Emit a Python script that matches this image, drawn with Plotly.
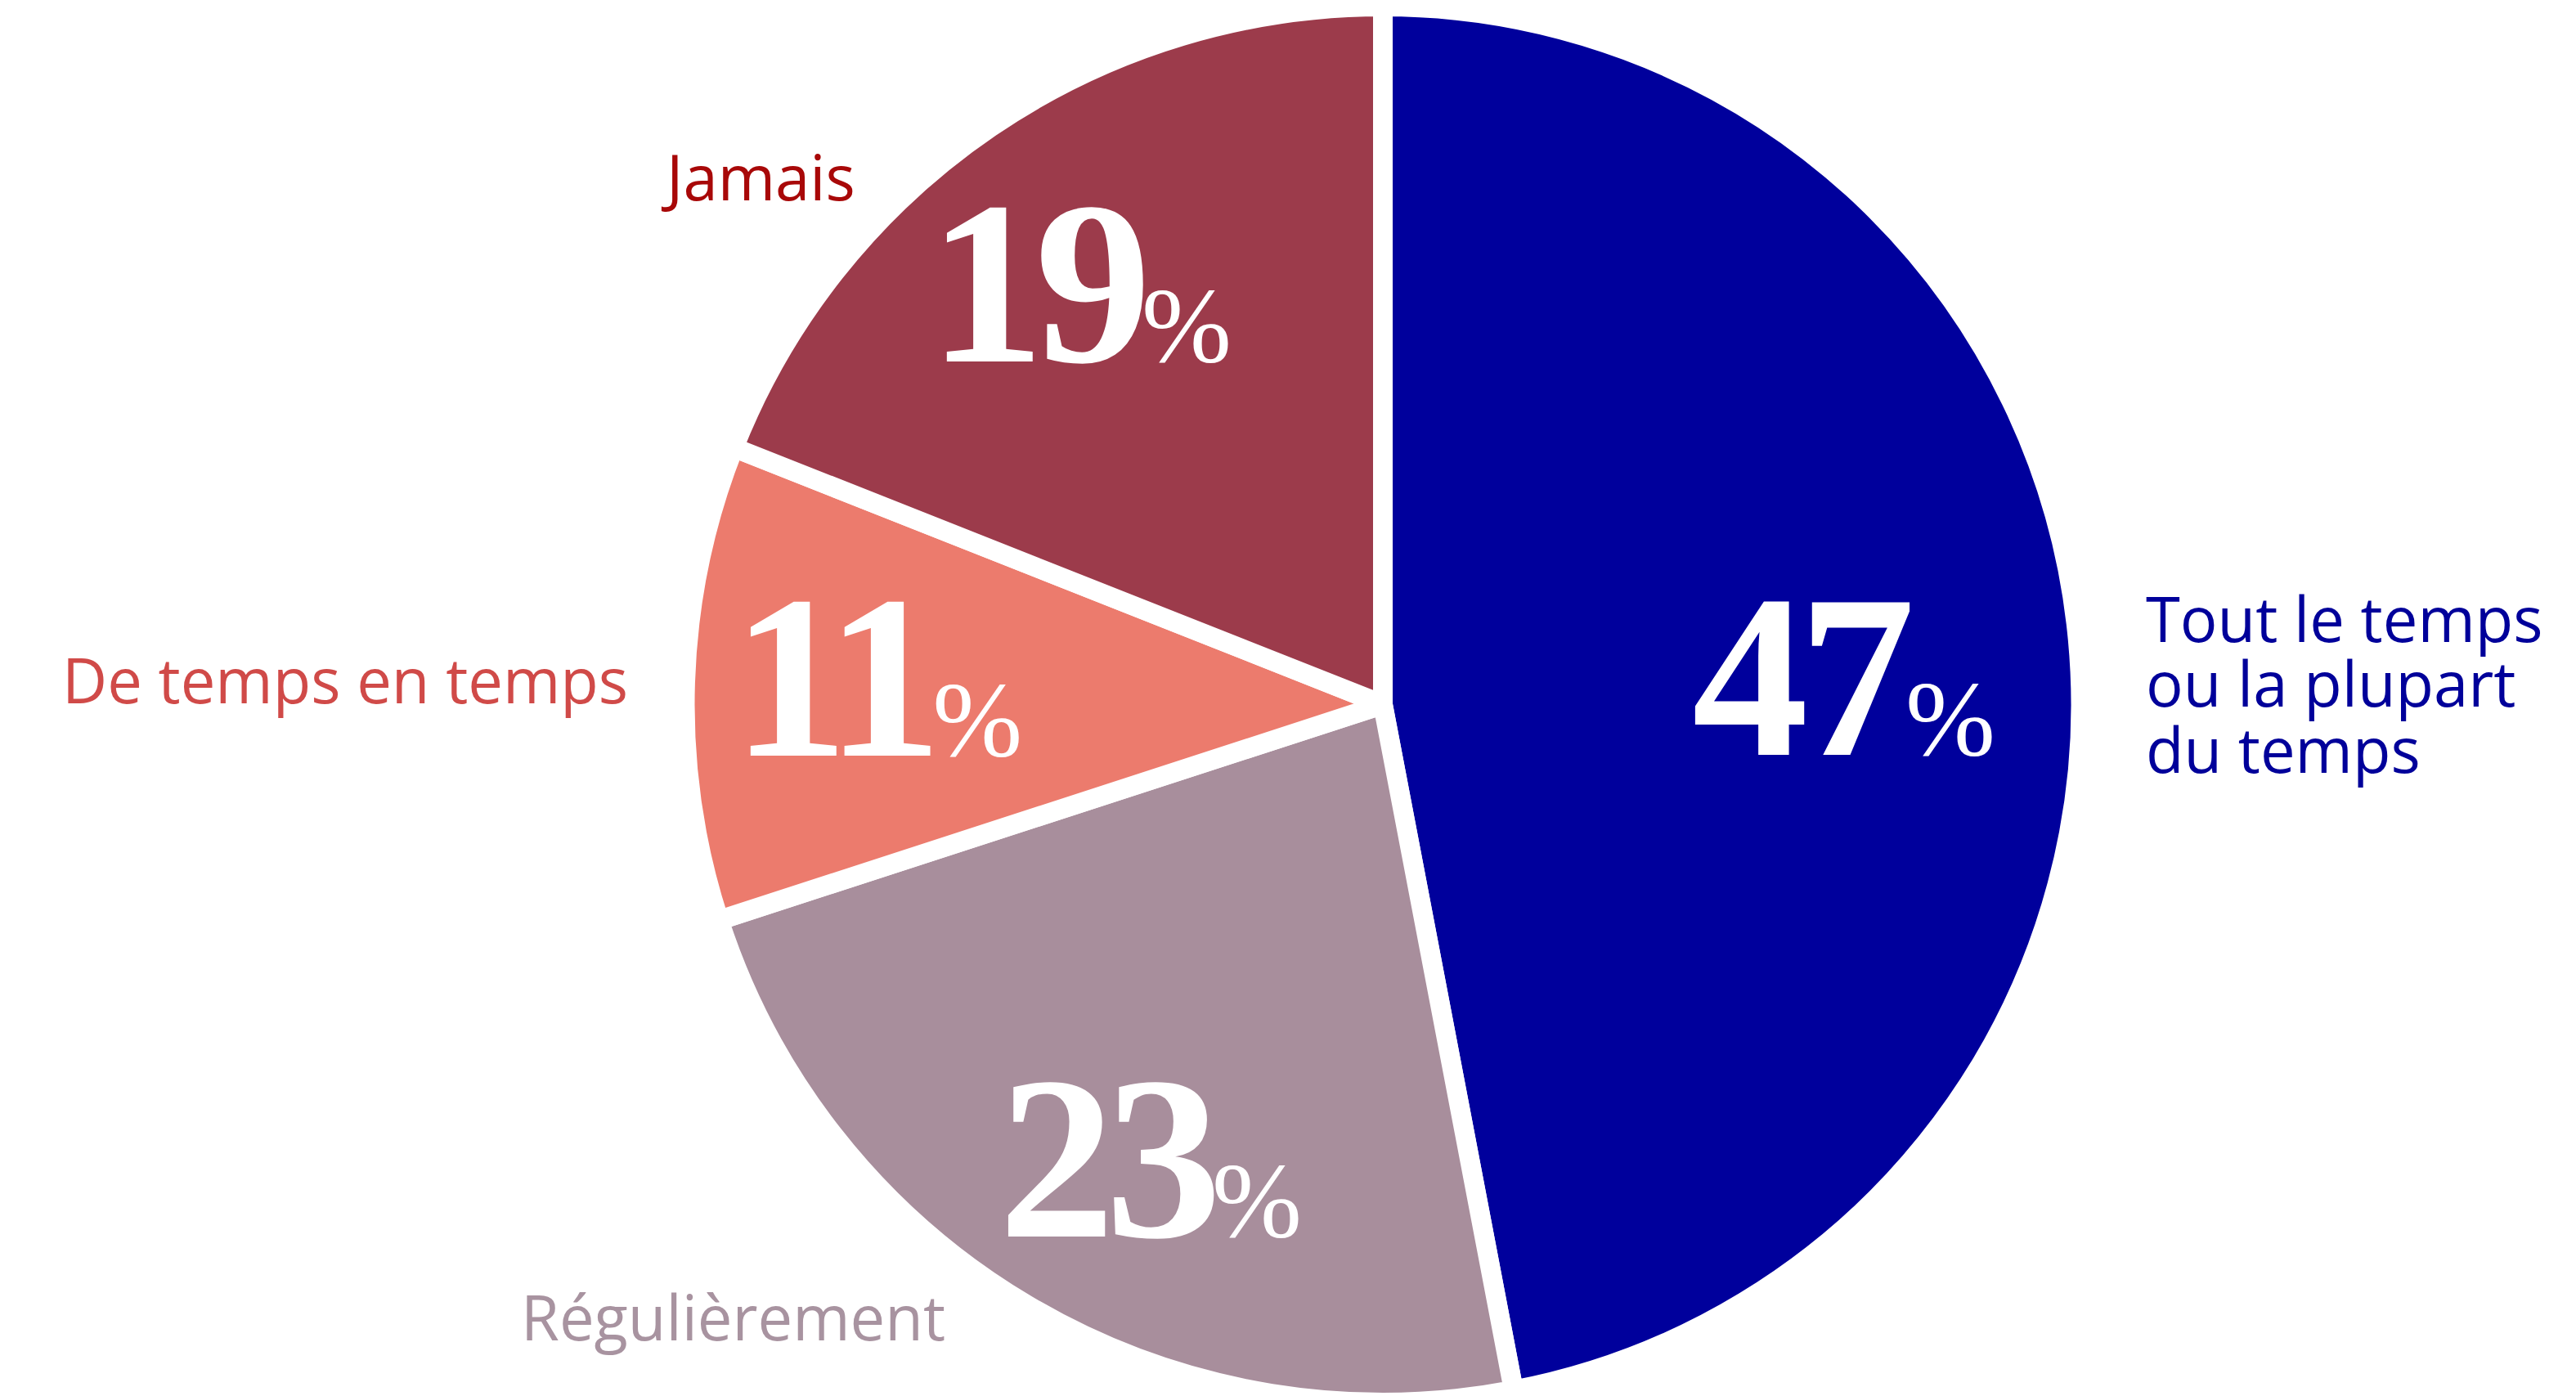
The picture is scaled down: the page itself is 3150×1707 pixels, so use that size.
import plotly.graph_objects as go

# ---- data ----
categories = ["Tout le temps ou la plupart du temps", "Régulièrement", "De temps en temps", "Jamais"]
values = [47, 23, 11, 19]
label_lines = [["Tout le temps", "ou la plupart", "du temps"], ["Régulièrement"], ["De temps en temps"], ["Jamais"]]
slice_colors = ["#00009c", "#a88e9c", "#ec7b6d", "#9c3b4b"]
label_colors = ["#00009a", "#a893a0", "#d04a48", "#a80808"]

W, H = 3150, 1707
cx = 1683

fig = go.Figure()
fig.add_trace(go.Pie(
    labels=categories,
    values=values,
    sort=False,
    direction="clockwise",
    rotation=0,
    textinfo="none",
    hoverinfo="skip",
    marker=dict(colors=slice_colors, line=dict(color="white", width=24)),
    domain=dict(x=[(cx - H / 2) / W, (cx + H / 2) / W], y=[0, 1]),
    showlegend=False,
))

def px(x, y):
    return x / W, 1 - y / H

# big number positions (layout only)
num_pos = [(2246, 819), (1398, 1408), (1064, 820), (1312, 338)]
annotations = []
for v, (x, y) in zip(values, num_pos):
    ax, ay = px(x, y)
    annotations.append(dict(
        x=ax, y=ay, xref="paper", yref="paper", xanchor="center", yanchor="middle",
        showarrow=False,
        text=(f"<span style='letter-spacing:-12px;font-weight:bold'>{v}</span>"
              f"<span style='font-size:132px;font-weight:normal'>%</span>"),
        font=dict(family="Liberation Serif", size=285, color="white"),
    ))

# category labels (layout only)
label_pos = [
    (2614, [748, 827, 907], "left"),
    (1150, [1601], "right"),
    (762, [823], "right"),
    (1040, [207], "right"),
]
for lines, col, (x, ys, anchor) in zip(label_lines, label_colors, label_pos):
    for line, y in zip(lines, ys):
        ax, ay = px(x, y)
        annotations.append(dict(
            x=ax, y=ay, xref="paper", yref="paper", xanchor=anchor, yanchor="middle",
            showarrow=False, text=line,
            font=dict(family="Open Sans", size=76, color=col, weight=500),
        ))

fig.update_layout(
    width=W, height=H,
    margin=dict(l=0, r=0, t=0, b=0),
    paper_bgcolor="white", plot_bgcolor="white",
    annotations=annotations,
)

fig.write_html("out.html")
